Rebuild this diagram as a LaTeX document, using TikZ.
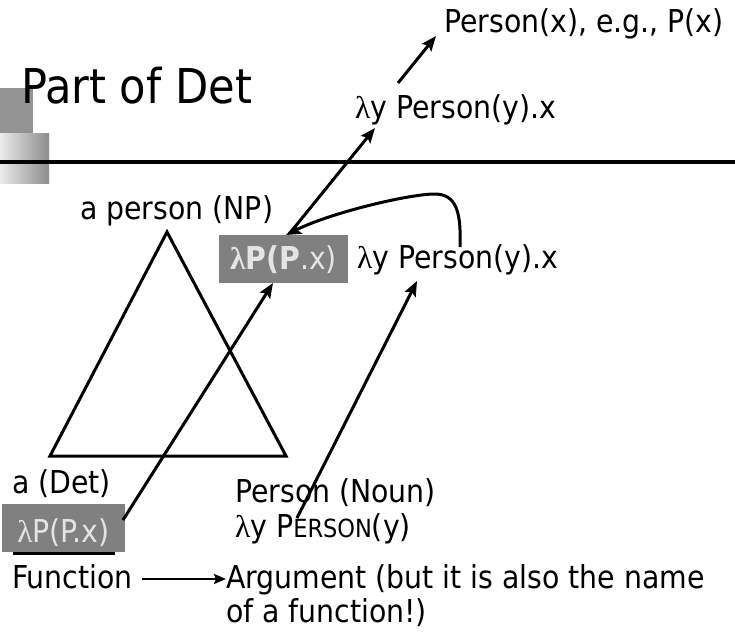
\documentclass[tikz,border=0pt]{standalone}
\usepackage{fontspec}
\setmainfont{DejaVu Sans Condensed}
\newfontfamily\lamfont{Liberation Serif}
\usetikzlibrary{arrows.meta}
\definecolor{boxgray}{HTML}{808080}
\definecolor{boxtext}{HTML}{E4E4E4}
\definecolor{sqgray}{HTML}{939393}
\newcommand{\lam}{{\lamfont λ}}
\newcommand{\blam}{{\lamfont\bfseries λ}}
\begin{document}
\begin{tikzpicture}[x=1pt,y=-1pt,
  txt/.style={inner sep=0pt, anchor=base west, font=\fontsize{31.5}{38}\selectfont},
  conn/.style={line width=3pt, -{Stealth[length=15pt,width=12pt,inset=3pt]}},
  graybox/.style={fill=boxgray, text=boxtext, inner sep=0pt, anchor=base, font=\fontsize{31.5}{38}\selectfont}]
\useasboundingbox (0,0) rectangle (735,632);
% decoration
\fill[sqgray] (0,88) rectangle (33,133);
\shade[left color=black!8, right color=black!45] (0,133) rectangle (49,183);
\draw[line width=3.8pt] (0,162) -- (735,162);
% title
\node[inner sep=0pt, anchor=base west, font=\fontsize{48}{56}\selectfont] (title) at (21,103) {Part of Det};
% texts
\node[txt] (px) at (444,32) {Person(x), e.g., P(x)};
\node[txt] (top) at (355,118) {\lam y Person(y).x};
\node[txt] (np) at (80,219) {a person (NP)};
\node[graybox, minimum width=129pt, text height=34pt, text depth=14pt] (fbox) at (283.5,269) {\blam\textbf{P(P}.x)};
\node[txt] (mid) at (357,268) {\lam y Person(y).x};
\node[txt] (det) at (12,493) {a (Det)};
\node[graybox, minimum width=123pt, text height=38pt, text depth=10pt] (dbox) at (63.5,542) {\lam P(P.x)};
\node[txt] (noun) at (235,502) {Person (Noun)};
\node[txt] (sem) at (235,537) {\lam y P{\fontsize{25}{30}\selectfont ERSON}(y)};
\node[txt] (fun) at (12,588) {Function};
\node[txt] (arg) at (226,588) {Argument (but it is also the name};
\node[txt] (arg2) at (226,622) {of a function!)};
% underline
\draw[line width=2.5pt] (13,553.5) -- (115,553.5);
% triangle
\draw[line width=3pt, line join=miter] (167,232) -- (50,456) -- (286,456) -- cycle;
% connector endpoints
\coordinate (a1s) at (398,83);
\coordinate (a1e) at (436,36);
\coordinate (a2s) at (290,233);
\coordinate (a2e) at (375,128);
\coordinate (cs) at (460,247);
\coordinate (cm) at (433,194);
\coordinate (ce) at (286,235);
\coordinate (a3s) at (123,520);
\coordinate (a3e) at (273,283);
\coordinate (a4s) at (297,518);
\coordinate (a4e) at (417,281);
\coordinate (fs) at (142,579);
\coordinate (fe) at (226,579);
% connectors
\draw[conn] (a1s) -- (a1e);
\draw[conn] (a2s) -- (a2e);
\draw[conn] (cs) .. controls (461,215) and (458,193) .. (cm) .. controls (405,195) and (330,213) .. (ce);
\draw[conn] (a3s) -- (a3e);
\draw[conn] (a4s) -- (a4e);
\draw[line width=2.2pt, -{Stealth[length=12pt,width=10pt,inset=2pt]}] (fs) -- (fe);
\end{tikzpicture}
\end{document}
